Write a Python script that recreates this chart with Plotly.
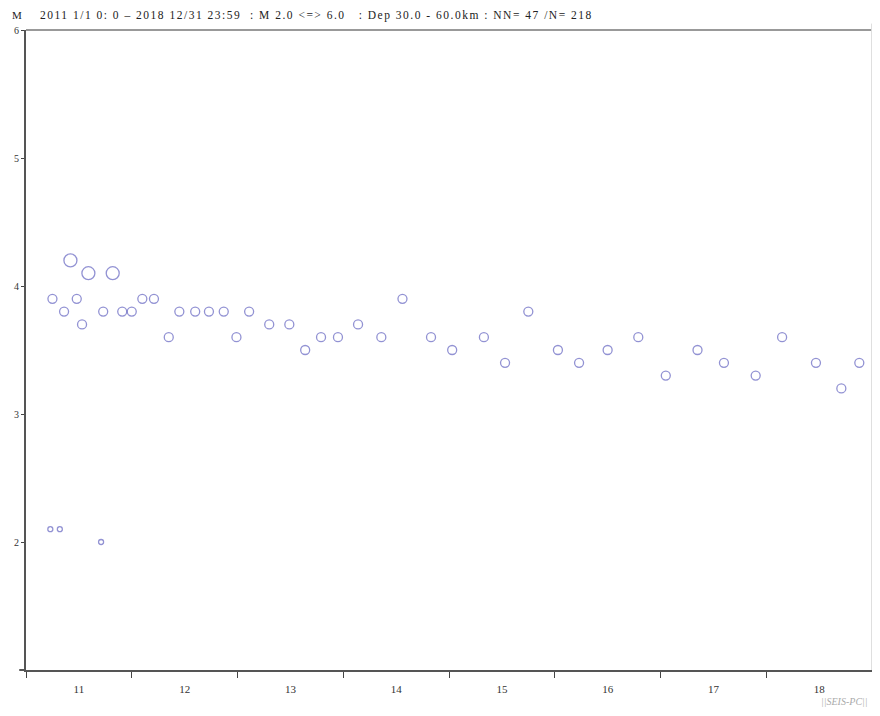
import plotly.graph_objects as go

# Decimal year of each event and its magnitude
years = [2011.25, 2011.36, 2011.42, 2011.48, 2011.53, 2011.59, 2011.73, 2011.82, 2011.91, 2012.00,
         2012.10, 2012.21, 2012.35, 2012.45, 2012.60, 2012.73, 2012.87, 2012.99, 2013.11, 2013.30,
         2013.49, 2013.64, 2013.79, 2013.95, 2014.14, 2014.36, 2014.56, 2014.83, 2015.03, 2015.33,
         2015.53, 2015.75, 2016.03, 2016.23, 2016.50, 2016.79, 2017.05, 2017.35, 2017.60, 2017.90,
         2018.15, 2018.47, 2018.71, 2018.88, 2011.23, 2011.32, 2011.71]
mags = [3.9, 3.8, 4.2, 3.9, 3.7, 4.1, 3.8, 4.1, 3.8, 3.8,
        3.9, 3.9, 3.6, 3.8, 3.8, 3.8, 3.8, 3.6, 3.8, 3.7,
        3.7, 3.5, 3.6, 3.6, 3.7, 3.6, 3.9, 3.6, 3.5, 3.6,
        3.4, 3.8, 3.5, 3.4, 3.5, 3.6, 3.3, 3.5, 3.4, 3.3,
        3.6, 3.4, 3.2, 3.4, 2.1, 2.1, 2.0]

year_bounds = [2011, 2012, 2013, 2014, 2015, 2016, 2017, 2018, 2019]
year_mids = [2011.5, 2012.5, 2013.5, 2014.5, 2015.5, 2016.5, 2017.5, 2018.5]
year_labels = ["11", "12", "13", "14", "15", "16", "17", "18"]
mag_ticks = [2, 3, 4, 5, 6]
mag_labels = ["2", "3", "4", "5", "6"]

axis_letter = "M"
title_text = ("2011 1/1 0: 0 \u2013 2018 12/31 23:59\u00a0\u00a0: M 2.0 &lt;=&gt; 6.0"
              "\u00a0\u00a0\u00a0: Dep 30.0 - 60.0km : NN= 47 /N= 218")

def msize(m):
    if m < 3:
        return 5
    if m < 4:
        return 9
    return 13

mcol = "#6464c0"
fig = go.Figure()
fig.add_trace(go.Scatter(
    x=years, y=mags, mode="markers",
    marker=dict(symbol="circle-open", size=[msize(m) for m in mags],
                color=mcol, line=dict(width=1.3, color=mcol)),
    showlegend=False, hoverinfo="skip",
))
# invisible trace for the label axis
fig.add_trace(go.Scatter(x=[2011, 2019], y=[1, 1], xaxis="x2", mode="markers",
                         marker=dict(opacity=0), showlegend=False, hoverinfo="skip"))

serif = "Liberation Serif"
annotations = [
    dict(text=axis_letter, xref="paper", yref="paper", x=0, y=1, xshift=-16, yshift=15,
         xanchor="left", yanchor="middle", showarrow=False,
         font=dict(family=serif, size=11, color="#222222")),
    dict(text='<span style="letter-spacing:1.5px">' + title_text + "</span>",
         xref="paper", yref="paper", x=0, y=1, xshift=12, yshift=15,
         xanchor="left", yanchor="middle", showarrow=False,
         font=dict(family=serif, size=11.5, color="#222222")),
    dict(text="<i>||SEIS-PC||</i>", xref="paper", yref="paper", x=1, y=0,
         xshift=-2, yshift=-24, xanchor="right", yanchor="top", showarrow=False,
         font=dict(family=serif, size=10, color="#aaaaaa")),
]

# the page body adds an 8px border, so the figure is 864x700
fig.update_layout(
    width=864, height=700,
    margin=dict(l=18, r=0, t=22, b=38, autoexpand=False),
    paper_bgcolor="white", plot_bgcolor="white",
    font=dict(family=serif, size=10, color="#333333"),
    xaxis=dict(range=[2011, 2019], tickmode="array", tickvals=year_bounds,
               ticktext=[""] * len(year_bounds), ticks="outside", ticklen=6,
               tickcolor="#444444", showgrid=False, zeroline=False, automargin=False,
               showline=True, linecolor="#555555", linewidth=2, mirror=False),
    xaxis2=dict(range=[2011, 2019], overlaying="x", side="bottom", anchor="y",
                tickmode="array", tickvals=year_mids, ticktext=year_labels,
                ticks="outside", ticklen=9, tickcolor="rgba(0,0,0,0)",
                showgrid=False, zeroline=False, showline=False, automargin=False,
                tickfont=dict(family=serif, size=11, color="#333333")),
    yaxis=dict(range=[1, 6], tickmode="array", tickvals=mag_ticks, ticktext=mag_labels,
               ticks="outside", ticklen=3, tickcolor="#444444", showgrid=False,
               zeroline=False, showline=True, linecolor="#555555", linewidth=2,
               automargin=False,
               tickfont=dict(family=serif, size=10, color="#333333")),
    shapes=[
        dict(type="line", xref="paper", yref="paper", x0=0, x1=1, y0=1, y1=1,
             line=dict(color="#777777", width=1.5)),
        dict(type="line", xref="paper", yref="paper", x0=0.9995, x1=0.9995, y0=0, y1=1.01,
             line=dict(color="#dddddd", width=1)),
        dict(type="line", xref="paper", yref="paper", x0=-0.008, x1=0, y0=0, y1=0,
             line=dict(color="#555555", width=2)),
    ],
    annotations=annotations,
)

fig.write_html("out.html")
